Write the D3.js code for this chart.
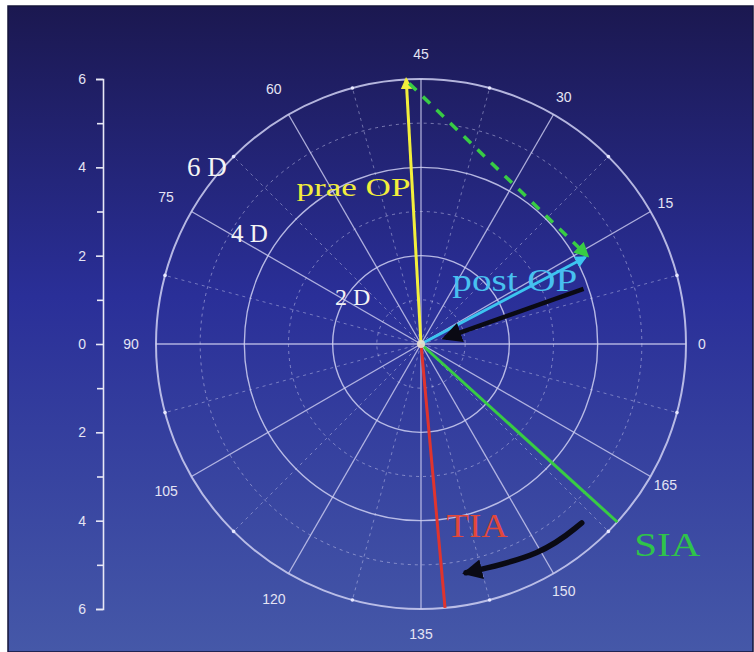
<!DOCTYPE html>
<html><head><meta charset="utf-8">
<script src="https://cdn.jsdelivr.net/npm/d3@7"></script>
<style>html,body{margin:0;padding:0;background:#fff;}svg{display:block;}</style>
</head><body>
<svg id="c" width="754" height="652"></svg>
<script>
// ---- data ----
const solidRings = [2, 4, 6];
const dashedRings = [1, 3, 5];
const angleLabels = [0, 15, 30, 45, 60, 75, 90, 105, 120, 135, 150, 165];
const yTickValues = [6, 4, 2, 0, -2, -4, -6];
const yMinorTicks = [5, 3, 1, -1, -3, -5];
const ringLabels = ["2 D", "4 D", "6 D"];
// vectors: axis in degrees (double-angle plot), magnitude in D
const vecNames = ["prae OP", "post OP", "SIA", "TIA"];
const vecAxis = [46.6, 13.9, 158.9, 137.6];
const vecMag = [6.0, 4.2, 6.0, 6.0];
const vecColors = ["#f2ee3c", "#3cc4f0", "#38cc44", "#e0342e"];
// annotation arrows (points in D units, x/y of double-angle plot)
const arrow1 = [[3.68, 1.25], [0.55, 0.14]];
const arrow2 = [[3.64, -4.05], [2.75, -4.78], [1.02, -5.18]];

const svg = d3.select("#c");
const cx = 421, cy = 344, R = 265;

const defs = svg.append("defs");
const grad = defs.append("linearGradient").attr("id", "bg").attr("x1", 0).attr("y1", 0).attr("x2", 0).attr("y2", 1);
grad.append("stop").attr("offset", "0%").attr("stop-color", "#1b1850");
grad.append("stop").attr("offset", "45%").attr("stop-color", "#2a2f98");
grad.append("stop").attr("offset", "100%").attr("stop-color", "#4558a8");

svg.append("rect").attr("x", 8).attr("y", 6).attr("width", 745).attr("height", 646)
  .attr("fill", "url(#bg)").attr("stroke", "#15153a").attr("stroke-width", 1.5);

function marker(id, color, size) {
  defs.append("marker").attr("id", id).attr("viewBox", "0 0 10 10").attr("refX", 8).attr("refY", 5)
    .attr("markerWidth", size).attr("markerHeight", size).attr("orient", "auto-start-reverse")
    .attr("markerUnits", "userSpaceOnUse")
    .append("path").attr("d", "M0,0 L10,5 L0,10 z").attr("fill", color);
}
marker("mY", "#f2ee3c", 12);
marker("mC", "#3cc4f0", 12);
marker("mG", "#38cc44", 15);
marker("mK", "#0a0a14", 20);

const r = d3.scaleLinear().domain([0, 6]).range([0, R]);
const g = svg.append("g").attr("transform", `translate(${cx},${cy})`);
const gridCol = "#cfd0f2";

function pt(screenDeg, rad) {
  const a = screenDeg * Math.PI / 180;
  return [rad * Math.cos(a), -rad * Math.sin(a)];
}

// dashed rings
g.selectAll("circle.d").data(dashedRings).enter().append("circle")
  .attr("r", d => r(d)).attr("fill", "none").attr("stroke", gridCol).attr("stroke-opacity", 0.5)
  .attr("stroke-width", 1).attr("stroke-dasharray", "3,4");
// dashed spokes
const dashedSpokes = d3.range(15, 360, 30);
g.selectAll("line.ds").data(dashedSpokes).enter().append("line")
  .attr("x1", 0).attr("y1", 0)
  .attr("x2", d => pt(d, R)[0]).attr("y2", d => pt(d, R)[1])
  .attr("stroke", gridCol).attr("stroke-opacity", 0.45).attr("stroke-width", 1).attr("stroke-dasharray", "3,4");
// solid spokes
g.selectAll("line.s").data(angleLabels).enter().append("line")
  .attr("x1", 0).attr("y1", 0)
  .attr("x2", d => pt(d * 2, R)[0]).attr("y2", d => pt(d * 2, R)[1])
  .attr("stroke", gridCol).attr("stroke-opacity", 0.8).attr("stroke-width", 1.3);
// solid rings
g.selectAll("circle.s").data(solidRings).enter().append("circle")
  .attr("r", d => r(d)).attr("fill", "none").attr("stroke", gridCol).attr("stroke-opacity", 0.85)
  .attr("stroke-width", d => d === 6 ? 2 : 1.4);
g.selectAll("circle.t").data(dashedSpokes).enter().append("circle")
  .attr("cx", d => pt(d, R)[0]).attr("cy", d => pt(d, R)[1]).attr("r", 1.8).attr("fill", "#e8e8ff");

// angle labels
function labR(d) {
  const a = d * 2 * Math.PI / 180, c = Math.cos(a), s = Math.abs(Math.sin(a));
  return R + 25 - 9 * Math.max(0, c) + 10 * Math.max(0, -c) * s;
}
g.selectAll("text.al").data(angleLabels).enter().append("text")
  .attr("x", d => pt(d * 2, labR(d))[0])
  .attr("y", d => pt(d * 2, labR(d))[1])
  .attr("dy", "0.35em").attr("text-anchor", "middle")
  .attr("font-family", "Liberation Sans, Arial, sans-serif").attr("font-size", 14)
  .attr("fill", "#e4e4f4").text(d => d);

// left axis
const y = d3.scaleLinear().domain([-6, 6]).range([cy + R, cy - R]);
const ax = svg.append("g").attr("transform", "translate(103,0)");
ax.call(d3.axisLeft(y).tickValues(yTickValues).tickFormat(d => Math.abs(d)).tickSize(7).tickSizeOuter(7));
ax.append("g").call(d3.axisLeft(y).tickValues(yMinorTicks).tickFormat("").tickSize(6).tickSizeOuter(0))
  .select(".domain").remove();
ax.selectAll("path,line").attr("stroke", "#e8e8f6").attr("stroke-width", 1.6);
ax.selectAll("text").attr("fill", "#e4e4f4").style("font-size", "14px")
  .style("font-family", "Liberation Sans, Arial, sans-serif").attr("x", -17);

// vectors
function vecEnd(i) { return pt(vecAxis[i] * 2, r(vecMag[i])); }
const markers = ["url(#mY)", "url(#mC)", null, null];
vecNames.forEach((n, i) => {
  const e = vecEnd(i);
  const l = g.append("line").attr("x1", 0).attr("y1", 0).attr("x2", e[0]).attr("y2", e[1])
    .attr("stroke", vecColors[i]).attr("stroke-width", 3);
  if (markers[i]) l.attr("marker-end", markers[i]);
});
const pa = vecEnd(0), pb = vecEnd(1);
g.append("line").attr("x1", pa[0] + 3).attr("y1", pa[1] + 4).attr("x2", pb[0] + 2).attr("y2", pb[1] - 2)
  .attr("stroke", "#38cc44").attr("stroke-width", 3.5).attr("stroke-dasharray", "10,9")
  .attr("marker-end", "url(#mG)");

g.append("circle").attr("r", 4).attr("fill", "#e8e0d0").attr("opacity", 0.9);

// annotation arrows
const lineGen = d3.line().x(d => r(d[0])).y(d => -r(d[1])).curve(d3.curveBasis);
g.append("path").attr("d", lineGen(arrow1)).attr("fill", "none").attr("stroke", "#0a0a14")
  .attr("stroke-width", 4.5).attr("marker-end", "url(#mK)");
g.append("path").attr("d", lineGen(arrow2)).attr("fill", "none").attr("stroke", "#0a0a14")
  .attr("stroke-width", 5.5).attr("stroke-linecap", "round").attr("marker-end", "url(#mK)");

// ring labels
const serif = "Liberation Serif, Times New Roman, serif";
const ringLabelPos = [[-1.95, 0.89], [-4.3, 2.32], [-5.3, 3.8]];
const ringLabelSize = [24, 25, 27];
g.selectAll("text.rl").data(ringLabels).enter().append("text")
  .attr("x", (d, i) => r(ringLabelPos[i][0])).attr("y", (d, i) => -r(ringLabelPos[i][1]))
  .attr("font-family", serif).attr("font-size", (d, i) => ringLabelSize[i])
  .attr("fill", "#f4f4f4").text(d => d);

// vector labels
const vecLabelPos = [[-2.82, 3.36], [0.71, 1.2], [4.83, -4.8], [0.58, -4.38]];
const vecLabelSize = [26, 32, 33, 33];
const vecLabelLen = [114, 125, 66, 61];
const vecLabelColor = ["#f2ee3c", "#48c0f0", "#2fc44a", "#e2483a"];
vecNames.forEach((n, i) => {
  g.append("text").attr("x", r(vecLabelPos[i][0])).attr("y", -r(vecLabelPos[i][1]))
    .attr("font-family", serif).attr("font-size", vecLabelSize[i]).attr("fill", vecLabelColor[i])
    .attr("textLength", vecLabelLen[i]).attr("lengthAdjust", "spacingAndGlyphs").text(n);
});
</script>
</body></html>
